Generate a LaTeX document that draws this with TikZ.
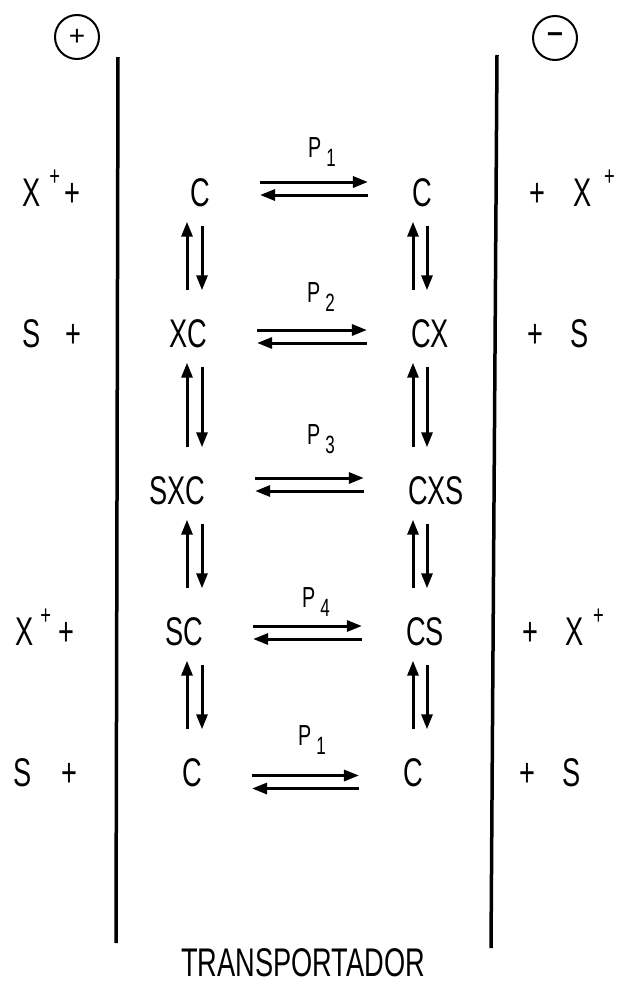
\documentclass[tikz,border=0pt]{standalone}
\usepackage{fontspec}
\setmainfont[FakeStretch=0.68]{Liberation Sans}
\newfontfamily\signfont{Liberation Sans}
\usepackage{tikz}
\usetikzlibrary{arrows.meta,calc}
\newcommand{\supplus}{\raisebox{21pt}{\fontsize{27}{27}\selectfont +}}
\newcommand{\psub}[1]{\hspace{5pt}\raisebox{-9pt}{\fontsize{25}{25}\selectfont #1}}

\begin{document}
\begin{tikzpicture}[x=1pt, y=-1pt, every node/.style={inner sep=0pt},
    species/.style={text height=29pt, text depth=0pt, font=\fontsize{40}{40}\selectfont},
    side/.style={species, anchor=west},
    rate/.style={anchor=base west, font=\fontsize{29}{29}\selectfont},
    pole/.style={draw, circle, line width=2pt, minimum size=44pt, font=\signfont\fontsize{28}{28}\selectfont},
    arr/.style={line width=3pt, -{Triangle[length=15pt,width=11pt]}},
    membrane/.style={line width=3.5pt}]
  \useasboundingbox (0,0) rectangle (622,988);
  % membrane and poles
  \draw[membrane] (118,57) -- (116,943);
  \draw[membrane] (497,55) -- (491,948);
  \node[pole] (anode) at (77,37) {+};
  \node[pole, font=\signfont\bfseries\fontsize{28}{28}\selectfont] (cathode) at (555,38) {−};
  % carrier states, inner and outer face
  \node[species] (lc1) at (200,192) {C};
  \node[species] (lxc) at (188,333) {XC};
  \node[species] (lsxc) at (177,490) {SXC};
  \node[species] (lsc) at (184,631) {SC};
  \node[species] (lc5) at (192,772) {C};
  \node[species] (rc1) at (422,192) {C};
  \node[species] (rcx) at (430,333) {CX};
  \node[species] (rcxs) at (436,490) {CXS};
  \node[species] (rcs) at (425,631) {CS};
  \node[species] (rc5) at (413,772) {C};
  % ligands on both sides
  \node[side] (lx1) at (22,192) {X\hspace{9pt}\supplus\hspace{4pt}+};
  \node[side] (ls2) at (22,333) {S\hspace{25pt}+};
  \node[side] (lx4) at (15,631) {X\hspace{7pt}\supplus\hspace{7pt}+};
  \node[side] (ls5) at (13,772) {S\hspace{30pt}+};
  \node[side] (rx1) at (529,192) {+\hspace{28pt}X\hspace{13pt}\supplus};
  \node[side] (rs2) at (527,333) {+\hspace{27pt}S};
  \node[side] (rx4) at (522,631) {+\hspace{27pt}X\hspace{10pt}\supplus};
  \node[side] (rs5) at (519,772) {+\hspace{27pt}S};
  % rate labels
  \node[rate] (p1) at (308,157) {P\psub{1}};
  \node[rate] (p2) at (307,302) {P\psub{2}};
  \node[rate] (p3) at (307,444) {P\psub{3}};
  \node[rate] (p4) at (302,607) {P\psub{4}};
  \node[rate] (p5) at (298,745) {P\psub{1}};
  % translocation steps
  \foreach \a/\b/\s in {lc1/rc1/-3.5, lxc/rcx/3.5, lsxc/rcxs/-5.5, lsc/rcs/1.5, lc5/rc5/10}{
    \draw[arr, shorten <=50pt, shorten >=44pt] ($(\a.east)+(0,\s-6.5)$) -- ($(\b.west)+(0,\s-6.5)$);
    \draw[arr, shorten <=44pt, shorten >=50pt] ($(\b.west)+(0,\s+6.5)$) -- ($(\a.east)+(0,\s+6.5)$);
  }
  % binding steps
  \coordinate (lu) at (187,0);
  \coordinate (ld) at (202,0);
  \coordinate (ru) at (413,0);
  \coordinate (rd) at (427,0);
  \foreach \a/\b in {lc1/lxc, lxc/lsxc, lsxc/lsc, lsc/lc5}{
    \draw[arr, shorten <=28pt, shorten >=15pt] (\b.north -| lu) -- (\a.south -| lu);
    \draw[arr, shorten <=19pt, shorten >=28pt] (\a.south -| ld) -- (\b.north -| ld);
  }
  \foreach \a/\b in {rc1/rcx, rcx/rcxs, rcxs/rcs, rcs/rc5}{
    \draw[arr, shorten <=28pt, shorten >=15pt] (\b.north -| ru) -- (\a.south -| ru);
    \draw[arr, shorten <=19pt, shorten >=28pt] (\a.south -| rd) -- (\b.north -| rd);
  }
  \node[species] (carrier) at (303,962) {TRANSPORTADOR};
\end{tikzpicture}
\end{document}
